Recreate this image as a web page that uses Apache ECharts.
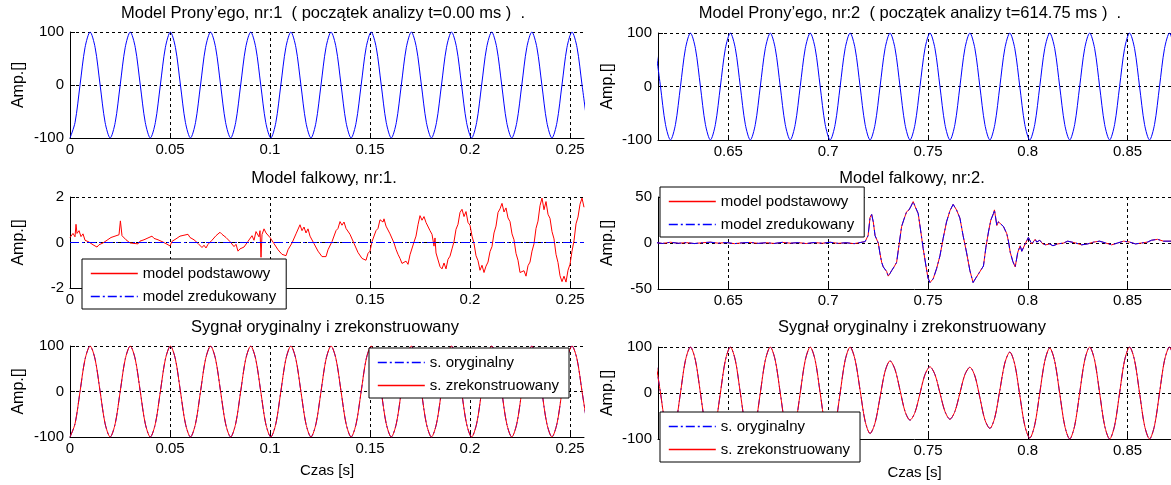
<!DOCTYPE html>
<html>
<head>
<meta charset="utf-8">
<title>Model Prony'ego i model falkowy</title>
<script src="https://cdn.jsdelivr.net/npm/echarts@6/dist/echarts.min.js"></script>
<style>
    html, body { margin: 0; padding: 0; background: #fff; }
    #wykres { width: 1171px; height: 485px; }
</style>
</head>
<body>
<div id="wykres"></div>
<script>
// okna analizy [s]
const okno1 = [0, 0.257];
const okno2 = [0.61475, 0.87175];
const ticksX1 = [0, 0.05, 0.1, 0.15, 0.2, 0.25];
const ticksX2 = [0.65, 0.7, 0.75, 0.8, 0.85];

// probkowanie sygnalow sinusoidalnych
const start1 = 0, krok1 = 0.00251;
const start2 = 0.6135, krok2 = 0.0025;

// model Prony'ego nr 1 (== sygnal oryginalny / zrekonstruowany nr 1)
const sygnal1 = [
    -100, -71, 0, 71, 100, 71, 0, -71,
    -100, -71, 0, 71, 100, 71, 0, -71,
    -100, -71, 0, 71, 100, 71, 0, -71,
    -100, -71, 0, 71, 100, 71, 0, -71,
    -100, -71, 0, 71, 100, 71, 0, -71,
    -100, -71, 0, 71, 100, 71, 0, -71,
    -100, -71, 0, 71, 100, 71, 0, -71,
    -100, -71, 0, 71, 100, 71, 0, -71,
    -100, -71, 0, 71, 100, 71, 0, -71,
    -100, -71, 0, 71, 100, 71, 0, -71,
    -100, -71, 0, 71, 100, 71, 0, -71,
    -100, -71, 0, 71, 100, 71, 0, -71,
    -100, -71, 0, 71, 100, 71, 0, -71
];

// model Prony'ego nr 2
const prony2 = [
    71, 0, -71, -100, -71, 0, 71, 100,
    71, 0, -71, -100, -71, 0, 71, 100,
    71, 0, -71, -100, -71, 0, 71, 100,
    71, 0, -71, -100, -71, 0, 71, 100,
    71, 0, -71, -100, -71, 0, 71, 100,
    71, 0, -71, -100, -71, 0, 71, 100,
    71, 0, -71, -100, -71, 0, 71, 100,
    71, 0, -71, -100, -71, 0, 71, 100,
    71, 0, -71, -100, -71, 0, 71, 100,
    71, 0, -71, -100, -71, 0, 71, 100,
    71, 0, -71, -100, -71, 0, 71, 100,
    71, 0, -71, -100, -71, 0, 71, 100,
    71, 0, -71, -100, -71, 0, 71, 100,
    71
];

// sygnal zrekonstruowany nr 2 (i oryginalny)
const rekon2 = [
    71, 0, -71, -100, -71, 0, 71, 100,
    71, 0, -71, -100, -71, 0, 71, 100,
    71, 0, -71, -100, -71, 0, 71, 100,
    71, 0, -71, -100, -71, 0, 71, 100,
    71, 0, -71, -100, -71, 0, 71, 100,
    72, 6, -61, -88, -65, -9, 47, 70,
    51, 6, -40, -59, -42, -1, 40, 57,
    40, 0, -40, -57, -40, 0, 40, 56,
    37, -10, -58, -77, -53, 6, 65, 89,
    62, -5, -71, -98, -69, 0, 69, 98,
    69, -1, -71, -100, -71, 0, 71, 100,
    71, 0, -71, -100, -71, 0, 71, 100,
    71, 0, -71, -100, -71, 0, 71, 100,
    71
];

// model falkowy nr 1 - model podstawowy [t, amp]
const falka1 = [
    [0, 0.22], [0.0015, 0.40], [0.0025, 0.25], [0.003, 0.80], [0.0035, 0.40], [0.0045, 0.52],
    [0.0055, 0.26], [0.0065, 0.38], [0.0075, 0.10], [0.0085, 0.12], [0.0095, 0.02], [0.0105, 0.02],
    [0.0115, -0.10], [0.0125, -0.08], [0.0135, -0.20], [0.0145, -0.10], [0.0155, -0.12], [0.0165, -0.02],
    [0.0175, 0.00], [0.0185, 0.10], [0.0195, 0.12], [0.0205, 0.22], [0.0215, 0.18], [0.0225, 0.28],
    [0.0235, 0.26], [0.0245, 0.34], [0.0252, 0.95], [0.026, 0.30], [0.027, 0.22], [0.028, 0.12],
    [0.029, 0.10], [0.030, -0.02], [0.031, 0.04], [0.032, -0.04], [0.033, 0.02], [0.034, -0.06],
    [0.035, 0.06], [0.036, 0.02], [0.037, 0.12], [0.038, 0.06], [0.039, 0.20], [0.040, 0.14],
    [0.041, 0.28], [0.042, 0.18], [0.043, 0.25], [0.044, 0.12], [0.045, 0.18], [0.046, 0.04],
    [0.047, 0.10], [0.048, -0.05], [0.049, 0.00], [0.050, -0.15], [0.051, 0.05], [0.052, -0.02],
    [0.053, 0.16], [0.054, 0.10], [0.055, 0.28], [0.056, 0.20], [0.057, 0.32], [0.058, 0.25],
    [0.059, 0.36], [0.060, 0.22], [0.061, 0.28], [0.062, 0.12], [0.063, 0.18], [0.064, -0.04],
    [0.065, 0.02], [0.066, -0.22], [0.067, -0.12], [0.068, -0.24], [0.069, -0.08], [0.070, -0.06],
    [0.071, 0.10], [0.072, 0.12], [0.073, 0.30], [0.074, 0.26], [0.075, 0.45], [0.076, 0.36],
    [0.077, 0.42], [0.078, 0.22], [0.079, 0.30], [0.080, 0.04], [0.081, 0.12], [0.082, -0.18],
    [0.083, -0.08], [0.084, -0.38], [0.085, -0.28], [0.086, -0.36], [0.087, -0.20], [0.088, -0.22],
    [0.089, 0.05], [0.090, 0.02], [0.091, 0.30], [0.092, 0.10], [0.093, 0.48], [0.094, 0.40],
    [0.0945, 0.25], [0.095, 0.52], [0.0955, -0.65], [0.096, 0.35], [0.097, 0.60], [0.098, 0.42],
    [0.099, 0.50], [0.100, 0.22], [0.101, 0.22], [0.102, -0.05], [0.103, -0.08], [0.104, -0.32],
    [0.105, -0.30], [0.106, -0.52], [0.107, -0.48], [0.108, -0.58], [0.109, -0.32], [0.110, -0.32],
    [0.111, -0.02], [0.112, 0.02], [0.113, 0.38], [0.114, 0.45], [0.115, 0.78], [0.116, 0.52],
    [0.117, 0.68], [0.118, 0.42], [0.119, 0.60], [0.120, 0.28], [0.121, 0.22], [0.122, -0.05],
    [0.123, -0.02], [0.124, -0.38], [0.125, -0.38], [0.126, -0.62], [0.127, -0.58], [0.128, -0.62],
    [0.129, -0.32], [0.130, -0.32], [0.131, 0.04], [0.132, 0.12], [0.133, 0.52], [0.134, 0.62],
    [0.135, 0.92], [0.136, 0.76], [0.137, 0.90], [0.138, 0.62], [0.139, 0.66], [0.140, 0.36],
    [0.141, 0.32], [0.142, -0.04], [0.143, -0.08], [0.144, -0.44], [0.145, -0.48], [0.146, -0.70],
    [0.147, -0.74], [0.148, -0.78], [0.149, -0.48], [0.150, -0.38], [0.151, 0.04], [0.152, 0.08],
    [0.153, 0.52], [0.154, 0.62], [0.155, 1.00], [0.1558, 1.08], [0.1565, 0.90], [0.157, 1.04],
    [0.158, 0.72], [0.159, 0.76], [0.160, 0.38], [0.161, 0.36], [0.162, -0.02], [0.163, -0.30],
    [0.164, -0.52], [0.165, -0.70], [0.166, -0.92], [0.167, -0.96], [0.168, -0.82], [0.169, -0.96],
    [0.170, -0.54], [0.171, -0.46], [0.172, 0.02], [0.173, 0.28], [0.174, 0.78], [0.175, 1.18],
    [0.176, 0.98], [0.177, 1.14], [0.178, 0.88], [0.179, 0.80], [0.180, 0.52], [0.181, 0.36],
    [0.182, -0.16], [0.1825, 0.20], [0.183, -0.46], [0.184, -0.54], [0.185, -1.06], [0.186, -1.16],
    [0.187, -0.90], [0.188, -1.16], [0.189, -0.74], [0.190, -0.60], [0.191, -0.28], [0.192, 0.04],
    [0.193, 0.58], [0.194, 0.80], [0.195, 1.32], [0.196, 1.46], [0.197, 1.14], [0.198, 1.36],
    [0.199, 0.88], [0.200, 0.76], [0.201, 0.28], [0.202, -0.04], [0.203, -0.58], [0.204, -0.80],
    [0.205, -1.22], [0.206, -1.00], [0.207, -1.32], [0.208, -1.04], [0.209, -0.86], [0.210, -0.40],
    [0.211, -0.18], [0.212, 0.42], [0.213, 0.72], [0.214, 1.32], [0.215, 1.48], [0.216, 1.72],
    [0.217, 1.34], [0.218, 1.52], [0.219, 1.08], [0.220, 0.92], [0.221, 0.38], [0.222, 0.12],
    [0.223, -0.48], [0.224, -0.78], [0.225, -1.32], [0.226, -1.40], [0.227, -1.24], [0.228, -1.48],
    [0.229, -1.02], [0.230, -0.86], [0.231, -0.38], [0.232, -0.06], [0.233, 0.62], [0.234, 0.94],
    [0.235, 1.62], [0.236, 1.95], [0.237, 1.44], [0.238, 1.80], [0.239, 1.24], [0.240, 1.06],
    [0.241, 0.48], [0.242, 0.16], [0.243, -0.52], [0.244, -0.88], [0.245, -1.46], [0.246, -1.72],
    [0.247, -1.48], [0.248, -1.74], [0.249, -1.22], [0.250, -0.96], [0.251, -0.38], [0.252, 0.08],
    [0.253, 0.82], [0.254, 1.12], [0.255, 1.68], [0.256, 1.95], [0.257, 1.55]
];
// model falkowy nr 1 - model zredukowany
const zredukowany1 = [[0, 0], [0.257, 0]];

// model falkowy nr 2 [t, amp]
const falka2 = [
    [0.6135, 0.5], [0.617, -0.5], [0.621, 0.8], [0.625, -0.3], [0.629, 0.4], [0.633, -0.6],
    [0.637, 0.3], [0.641, 0.9], [0.645, -0.2], [0.649, 0.5], [0.653, -0.7], [0.657, 0.2],
    [0.661, 0.6], [0.665, -0.4], [0.669, 0.3], [0.673, -0.5], [0.677, 0.7], [0.681, -0.2],
    [0.685, 0.4], [0.689, -0.6], [0.693, 0.5], [0.697, -0.3], [0.701, 0.8], [0.705, -0.4],
    [0.709, 0.3], [0.713, -0.7], [0.716, 0.5], [0.7185, 1.5], [0.7200, 8], [0.7210, 28],
    [0.7218, 31], [0.7226, 23], [0.7235, 8], [0.7242, 10], [0.7251, 0], [0.7260, -12],
    [0.7268, -21], [0.7276, -26], [0.7284, -24], [0.7293, -31], [0.7301, -36], [0.7310, -33],
    [0.7318, -30], [0.7330, -26], [0.7343, -21], [0.7355, -2], [0.7368, 18], [0.7380, 26],
    [0.7393, 34], [0.7405, 36], [0.7415, 40], [0.7426, 45], [0.7435, 40], [0.7451, 32],
    [0.7463, 14], [0.7476, -6], [0.7490, -25], [0.7500, -38], [0.7510, -43], [0.7526, -39],
    [0.7543, -28], [0.7560, -14], [0.7576, 5], [0.7593, 23], [0.7610, 35], [0.7626, 42],
    [0.7643, 36], [0.7660, 27], [0.7676, 8], [0.7693, -10], [0.7710, -30], [0.7726, -43],
    [0.7740, -38], [0.7778, -25], [0.7790, -5], [0.7803, 12], [0.7815, 25], [0.7828, 32],
    [0.7833, 36], [0.7845, 19], [0.7853, 23], [0.7861, 25], [0.7878, 18], [0.7895, 10],
    [0.7903, 2], [0.7912, -10], [0.7925, -20], [0.7937, -26], [0.7950, -10], [0.7962, -3],
    [0.7970, -9], [0.7978, -7], [0.7987, -1], [0.7995, 0], [0.8003, 6], [0.8012, 5],
    [0.8020, -1], [0.8028, -1], [0.8037, 4], [0.8045, 1], [0.8060, 3], [0.8075, -1],
    [0.8090, -2], [0.8110, -1], [0.8126, -3], [0.8150, -1], [0.8180, 0], [0.8200, 2],
    [0.8240, 0], [0.8270, -2], [0.8300, -1], [0.8330, 1], [0.8360, 2], [0.8390, 0],
    [0.8420, -2], [0.8450, 0], [0.8480, 2], [0.8510, 1], [0.8540, -1], [0.8570, 0],
    [0.8600, 1], [0.8620, 3], [0.8650, 4], [0.8680, 2], [0.8718, 2]
];

const FONT = '"Liberation Sans", Arial, sans-serif';
const NIEBIESKI = '#0000ff';
const CZERWONY = '#ff0000';
const KRESKA_KROPKA = [9, 3, 2, 3];

const probki = (start, krok, wartosci) => wartosci.map((v, i) => [start + i * krok, v]);

const tekst = { color: '#000', fontSize: 15, fontFamily: FONT, fontWeight: 'normal' };
const siatka = { show: true, lineStyle: { color: '#000', width: 1, type: [3, 3] } };

function osX(grid, okno, ticks, nazwa) {
    return {
        type: 'value', gridIndex: grid, min: okno[0], max: okno[1],
        axisLine: { show: true, onZero: false, lineStyle: { color: '#000', width: 1 } },
        axisTick: { show: true, inside: true, length: 5, customValues: ticks, lineStyle: { color: '#000' } },
        axisLabel: Object.assign({ customValues: ticks, margin: 4 }, tekst),
        splitLine: siatka,
        name: nazwa || '', nameLocation: 'middle', nameGap: 26, nameTextStyle: tekst
    };
}

function osY(grid, min, max, interval, gap) {
    return {
        type: 'value', gridIndex: grid, min: min, max: max, interval: interval,
        axisLine: { show: true, onZero: false, lineStyle: { color: '#000', width: 1 } },
        axisTick: { show: true, inside: true, length: 5, lineStyle: { color: '#000' } },
        axisLabel: Object.assign({ margin: 6 }, tekst),
        splitLine: siatka,
        name: 'Amp.[]', nameLocation: 'middle', nameRotate: 90, nameGap: gap,
        nameTextStyle: Object.assign({}, tekst, { fontSize: 16 })
    };
}

function tytul(text, x, y) {
    return { text: text, left: x, top: y, textAlign: 'center', padding: 0,
        textStyle: Object.assign({}, tekst, { fontSize: 16.5 }) };
}

// pozycja legendy: [nazwa, kolor, typ linii]
function legenda(pozycje, x, y) {
    return {
        data: pozycje.map(p => ({
            name: p[0],
            lineStyle: { color: p[1], width: 1.6, type: p[2] },
            itemStyle: { color: 'transparent', borderWidth: 0, opacity: 0 }
        })),
        left: x, top: y, orient: 'vertical', selectedMode: false,
        backgroundColor: '#fff', borderColor: '#000', borderWidth: 1, borderRadius: 0,
        shadowBlur: 0, shadowColor: 'transparent', shadowOffsetX: 0, shadowOffsetY: 0,
        padding: [7, 10, 5, 8], itemGap: 8, itemWidth: 47, itemHeight: 14,
        textStyle: tekst
    };
}

function linia(nazwa, idx, dane, kolor, typ, gladka) {
    return {
        name: nazwa, type: 'line', xAxisIndex: idx, yAxisIndex: idx, data: dane,
        symbol: 'none', showSymbol: false, smooth: gladka || false,
        lineStyle: { color: kolor, width: 1, type: typ || 'solid' },
        itemStyle: { color: kolor }, emphasis: { disabled: true }
    };
}

const legendaFalka = [['model podstawowy', CZERWONY, 'solid'], ['model zredukowany', NIEBIESKI, KRESKA_KROPKA]];
const legendaSygnal = [['s. oryginalny', NIEBIESKI, KRESKA_KROPKA], ['s. zrekonstruowany', CZERWONY, 'solid']];

const chart = echarts.init(document.getElementById('wykres'));
chart.setOption({
    animation: false,
    backgroundColor: '#fff',
    title: [
        tytul('Model Prony’ego, nr:1  ( początek analizy t=0.00 ms )  .', 323, 5),
        tytul('Model Prony’ego, nr:2  ( początek analizy t=614.75 ms )  .', 910, 5),
        tytul('Model falkowy, nr:1.', 324, 170),
        tytul('Model falkowy, nr:2.', 912, 170),
        tytul('Sygnał oryginalny i zrekonstruowany', 325, 319),
        tytul('Sygnał oryginalny i zrekonstruowany', 912, 319)
    ],
    legend: [
        legenda(legendaFalka, 82, 259),
        legenda(legendaFalka, 660, 187),
        legenda(legendaSygnal, 369, 348),
        legenda(legendaSygnal, 660, 412)
    ],
    grid: [
        { left: 70, top: 32, width: 514, height: 106 },
        { left: 658, top: 33, width: 514, height: 107 },
        { left: 70, top: 197, width: 514, height: 91 },
        { left: 658, top: 197, width: 514, height: 92 },
        { left: 70, top: 346, width: 514, height: 91 },
        { left: 658, top: 347, width: 514, height: 92 }
    ],
    xAxis: [
        osX(0, okno1, ticksX1), osX(1, okno2, ticksX2),
        osX(2, okno1, ticksX1), osX(3, okno2, ticksX2),
        osX(4, okno1, ticksX1, 'Czas [s]'), osX(5, okno2, ticksX2, 'Czas [s]')
    ],
    yAxis: [
        osY(0, -100, 100, 100, 43), osY(1, -100, 100, 100, 42),
        osY(2, -2, 2, 2, 43), osY(3, -50, 50, 50, 42),
        osY(4, -100, 100, 100, 43), osY(5, -100, 100, 100, 42)
    ],
    series: [
        linia('Prony 1', 0, probki(start1, krok1, sygnal1), NIEBIESKI, 'solid', 0.3),
        linia('Prony 2', 1, probki(start2, krok2, prony2), NIEBIESKI, 'solid', 0.3),
        linia('model podstawowy', 2, falka1, CZERWONY),
        linia('model zredukowany', 2, zredukowany1, NIEBIESKI, KRESKA_KROPKA),
        linia('model podstawowy', 3, falka2, CZERWONY),
        linia('model zredukowany', 3, falka2, NIEBIESKI, KRESKA_KROPKA),
        linia('s. oryginalny', 4, probki(start1, krok1, sygnal1), NIEBIESKI, KRESKA_KROPKA, 0.3),
        linia('s. zrekonstruowany', 4, probki(start1, krok1, sygnal1), CZERWONY, 'solid', 0.3),
        linia('s. oryginalny', 5, probki(start2, krok2, rekon2), NIEBIESKI, KRESKA_KROPKA, 0.3),
        linia('s. zrekonstruowany', 5, probki(start2, krok2, rekon2), CZERWONY, 'solid', 0.3)
    ]
});

window.addEventListener('resize', () => chart.resize());
</script>
</body>
</html>
